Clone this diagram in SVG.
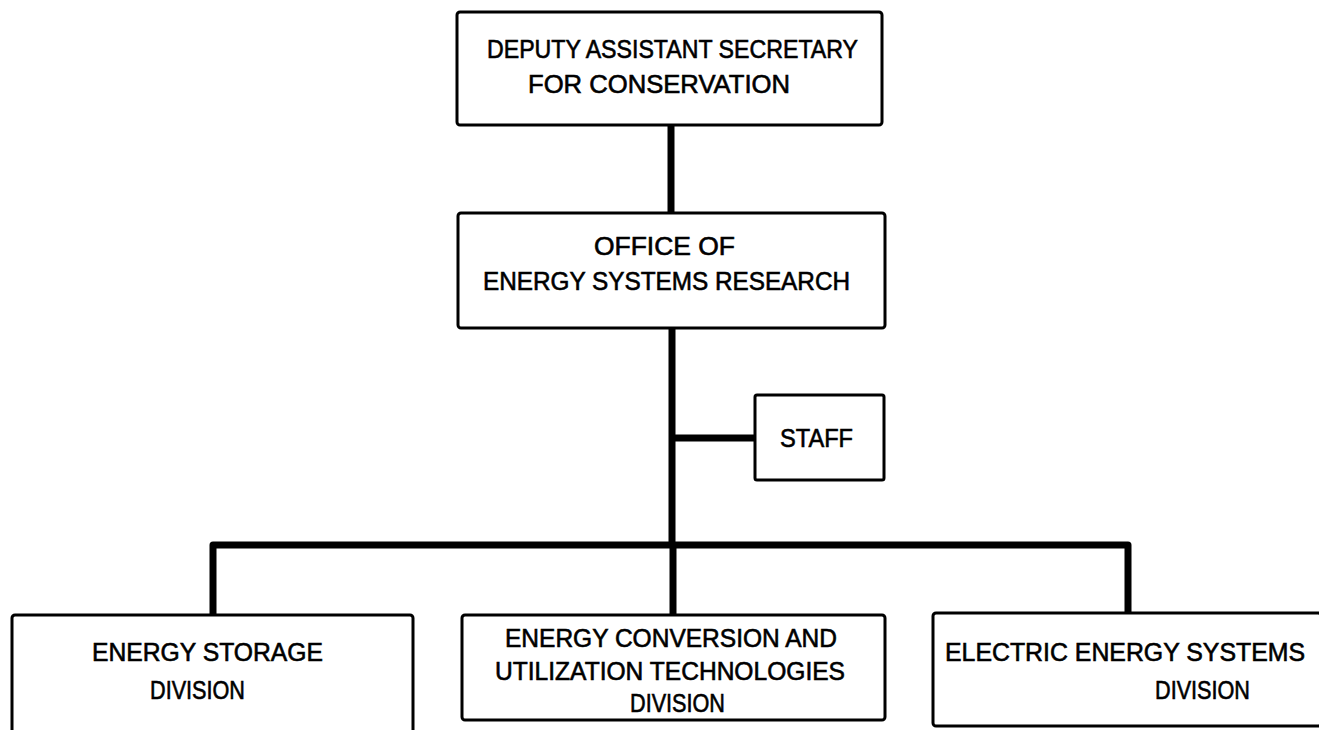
<svg xmlns="http://www.w3.org/2000/svg" width="1319" height="730" viewBox="0 0 1319 730">
<style>
.box{fill:#fff;stroke:#000;stroke-width:3;}
.t{font-family:"Liberation Sans",Arial,sans-serif;font-size:25px;fill:#000;stroke:#000;stroke-width:0.6;text-anchor:start;}
.c{fill:none;stroke:#000;stroke-width:7;stroke-linejoin:round;}
</style>
<rect width="1319" height="730" fill="#fff"/>
<g id="connectors">
<line class="c" x1="671" y1="125" x2="671" y2="213"/>
<line class="c" x1="672" y1="328" x2="672" y2="545"/>
<line class="c" x1="672" y1="438" x2="755" y2="438"/>
<path class="c" d="M213 615 V545 H1128 V613"/>
<line class="c" x1="673" y1="545" x2="673" y2="615"/>
</g>
<g id="deputy">
<rect class="box" x="457" y="12" width="425" height="113" rx="3"/>
<text class="t" x="487" y="58" textLength="371" lengthAdjust="spacingAndGlyphs">DEPUTY ASSISTANT SECRETARY</text>
<text class="t" x="528" y="93" textLength="262" lengthAdjust="spacingAndGlyphs">FOR CONSERVATION</text>
</g>
<g id="office">
<rect class="box" x="458" y="213" width="427" height="115" rx="3"/>
<text class="t" x="594" y="255" textLength="141" lengthAdjust="spacingAndGlyphs">OFFICE OF</text>
<text class="t" x="483" y="290" textLength="367" lengthAdjust="spacingAndGlyphs">ENERGY SYSTEMS RESEARCH</text>
</g>
<g id="staff">
<rect class="box" x="755" y="395" width="129" height="85" rx="2"/>
<text class="t" x="780" y="447" textLength="73" lengthAdjust="spacingAndGlyphs">STAFF</text>
</g>
<g id="storage">
<rect class="box" x="12" y="615" width="401" height="118" rx="3"/>
<text class="t" x="92" y="661" textLength="231" lengthAdjust="spacingAndGlyphs">ENERGY STORAGE</text>
<text class="t" x="150" y="699" textLength="95" lengthAdjust="spacingAndGlyphs">DIVISION</text>
</g>
<g id="conversion">
<rect class="box" x="462" y="615" width="423" height="105" rx="3"/>
<text class="t" x="505" y="647" textLength="332" lengthAdjust="spacingAndGlyphs">ENERGY CONVERSION AND</text>
<text class="t" x="495" y="680" textLength="350" lengthAdjust="spacingAndGlyphs">UTILIZATION TECHNOLOGIES</text>
<text class="t" x="630" y="712" textLength="95" lengthAdjust="spacingAndGlyphs">DIVISION</text>
</g>
<g id="electric">
<rect class="box" x="933" y="613" width="388" height="113" rx="3"/>
<text class="t" x="945" y="661" textLength="360" lengthAdjust="spacingAndGlyphs">ELECTRIC ENERGY SYSTEMS</text>
<text class="t" x="1155" y="699" textLength="95" lengthAdjust="spacingAndGlyphs">DIVISION</text>
</g>
</svg>
